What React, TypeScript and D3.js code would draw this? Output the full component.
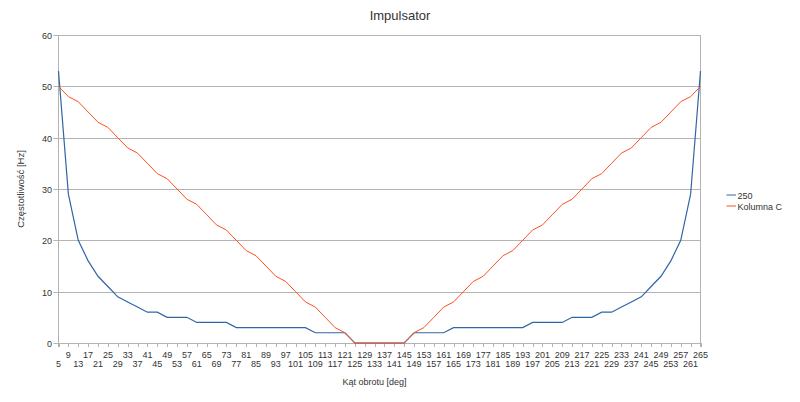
import React from "react";
import * as d3 from "d3";

const categories: number[] = [
  5, 9, 13, 17, 21, 25, 29, 33, 37, 41, 45, 49, 53, 57, 61, 65, 69, 73, 77, 81,
  85, 89, 93, 97, 101, 105, 109, 113, 117, 121, 125, 129, 133, 137, 141, 145,
  149, 153, 157, 161, 165, 169, 173, 177, 181, 185, 189, 193, 197, 201, 205,
  209, 213, 217, 221, 225, 229, 233, 237, 241, 245, 249, 253, 257, 261, 265,
];

const series250: number[] = [
  53, 29, 20, 16, 13, 11, 9, 8, 7, 6, 6, 5, 5, 5, 4, 4, 4, 4, 3, 3,
  3, 3, 3, 3, 3, 3, 2, 2, 2, 2, 0, 0, 0, 0, 0, 0,
  2, 2, 2, 2, 3, 3, 3, 3, 3, 3, 3, 3, 4, 4, 4,
  4, 5, 5, 5, 6, 6, 7, 8, 9, 11, 13, 16, 20, 29, 53,
];

const seriesC: number[] = [
  50, 48, 47, 45, 43, 42, 40, 38, 37, 35, 33, 32, 30, 28, 27, 25, 23, 22, 20, 18,
  17, 15, 13, 12, 10, 8, 7, 5, 3, 2, 0, 0, 0, 0, 0, 0,
  2, 3, 5, 7, 8, 10, 12, 13, 15, 17, 18, 20, 22, 23, 25,
  27, 28, 30, 32, 33, 35, 37, 38, 40, 42, 43, 45, 47, 48, 50,
];

const yTicks: number[] = [0, 10, 20, 30, 40, 50, 60];

const seriesNames = ["250", "Kolumna C"];
const colors = ["#3166a6", "#ff4f1f"];

export default function App() {
  const W = 800;
  const H = 402;
  const left = 58.5;
  const right = 700.5;
  const top = 35;
  const bottom = 343;

  const x = d3
    .scalePoint<string>()
    .domain(categories.map(String))
    .range([left, right])
    .padding(0);
  const y = d3.scaleLinear().domain([0, 60]).range([bottom, top]);

  const line = d3
    .line<number>()
    .x((_, i) => x(String(categories[i])) as number)
    .y((d) => y(d));

  const font = "'Liberation Sans', Arial, sans-serif";
  const textColor = "#333";
  const gridColor = "#b3b3b3";

  return (
    <svg
      width={W}
      height={H}
      style={{ position: "absolute", left: 0, top: 0, background: "#fff" }}
      fontFamily={font}
    >
      <rect x={0} y={0} width={W} height={H} fill="#fff" />
      <text x={400} y={20} fontSize={13} textAnchor="middle" fill={textColor}>
        Impulsator
      </text>

      {yTicks.map((t) => (
        <g key={t}>
          <line
            x1={left - 5}
            x2={right}
            y1={Math.round(y(t)) + 0.5}
            y2={Math.round(y(t)) + 0.5}
            stroke={gridColor}
            strokeWidth={1}
          />
          <text
            x={52}
            y={Math.round(y(t)) + 3.5}
            fontSize={9}
            textAnchor="end"
            fill={textColor}
          >
            {t}
          </text>
        </g>
      ))}

      <line x1={left} x2={left} y1={top} y2={bottom + 4} stroke={gridColor} />
      <line x1={right} x2={right} y1={top} y2={bottom + 4} stroke={gridColor} />

      {categories.map((c, i) => {
        const cx = Math.round(x(String(c)) as number) + 0.5;
        return (
          <g key={c}>
            <line x1={cx} x2={cx} y1={bottom} y2={bottom + 4} stroke={gridColor} />
            <text
              x={x(String(c)) as number}
              y={i % 2 === 1 ? 357.5 : 366.5}
              fontSize={9}
              textAnchor="middle"
              fill={textColor}
            >
              {c}
            </text>
          </g>
        );
      })}

      <path
        d={line(series250) || ""}
        fill="none"
        stroke={colors[0]}
        strokeWidth={1.2}
      />
      <path
        d={line(seriesC) || ""}
        fill="none"
        stroke={colors[1]}
        strokeWidth={1}
      />

      <text x={374.5} y={385} fontSize={9} textAnchor="middle" fill={textColor}>
        Kąt obrotu [deg]
      </text>
      <text
        transform={`translate(24, ${(top + bottom) / 2}) rotate(-90)`}
        fontSize={9.5}
        textAnchor="middle"
        fill={textColor}
      >
        Częstotliwość [Hz]
      </text>

      {seriesNames.map((n, i) => (
        <g key={n}>
          <line
            x1={726.5}
            x2={736}
            y1={195 + i * 11}
            y2={195 + i * 11}
            stroke={colors[i]}
            strokeWidth={1}
          />
          <text x={737.5} y={198.5 + i * 11} fontSize={9} fill={textColor}>
            {n}
          </text>
        </g>
      ))}
    </svg>
  );
}
